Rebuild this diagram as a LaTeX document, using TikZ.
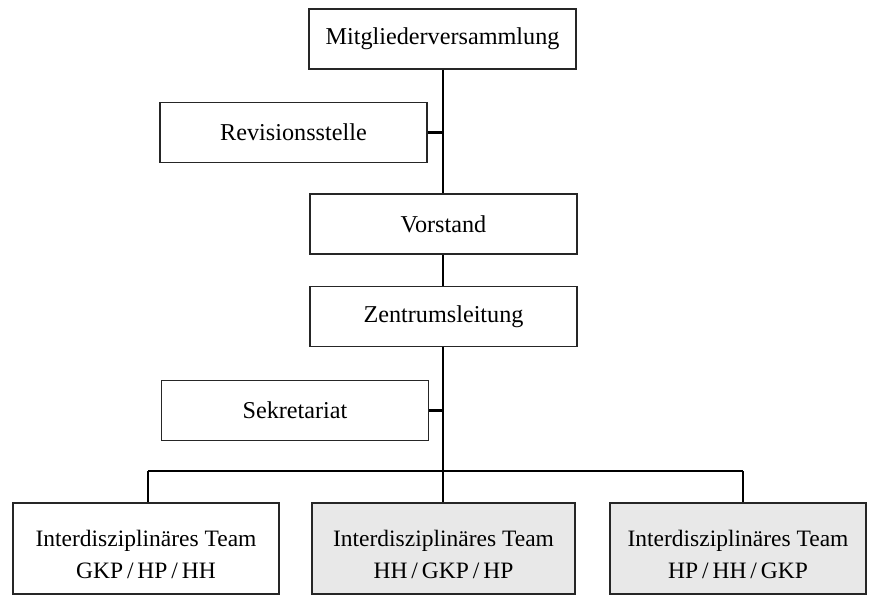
\documentclass[tikz,border=0pt]{standalone}
\usepackage{fontspec}
\setmainfont{Liberation Serif}
\tikzset{
  box/.style={draw=black!85, line width=1.2pt, minimum width=267pt, minimum height=60pt, inner sep=0pt, align=center, font=\fontsize{24.2}{32}\selectfont},
  team/.style={box, minimum height=91pt, font=\fontsize{23.5}{32}\selectfont},
  grey/.style={fill=black!9},
  conn/.style={line width=2.3pt}
}
\begin{document}
\begin{tikzpicture}[x=1pt,y=1pt]
\useasboundingbox[fill=white] (0,0) rectangle (870,-595);
\node[box] (mv) at (442.5,-39) {Mitgliederversammlung};
\node[box] (rev) at (293.5,-132.5) {Revisionsstelle};
\node[box] (vor) at (443.5,-224) {Vorstand};
\node[box] (zen) at (443.5,-316.5) {Zentrumsleitung};
\node[box] (sek) at (295,-410.5) {Sekretariat};
\node[team, minimum width=266pt] (t1) at (146,-548.5) {\rule{0pt}{28pt}Interdisziplinäres Team\\GKP\,/\,HP\,/\,HH};
\node[team, grey, minimum width=263pt] (t2) at (443.5,-548.5) {\rule{0pt}{28pt}Interdisziplinäres Team\\HH\,/\,GKP\,/\,HP};
\node[team, grey, minimum width=256pt] (t3) at (738,-548.5) {\rule{0pt}{28pt}Interdisziplinäres Team\\HP\,/\,HH\,/\,GKP};
\coordinate (bm) at (443,-471);
\coordinate (bl) at (148,-471);
\coordinate (br) at (743,-471);
\draw[conn] (mv.south -| bm) -- (vor.north -| bm);
\draw[conn] (rev.east) -- (rev.east -| bm);
\draw[conn] (vor.south -| bm) -- (zen.north -| bm);
\draw[conn] (zen.south -| bm) -- (bm);
\draw[conn] (sek.east) -- (sek.east -| bm);
\draw[conn] (bl) -- (br);
\draw[conn] (bl) -- (bl |- t1.north);
\draw[conn] (bm) -- (bm |- t2.north);
\draw[conn] (br) -- (br |- t3.north);
\end{tikzpicture}
\end{document}
